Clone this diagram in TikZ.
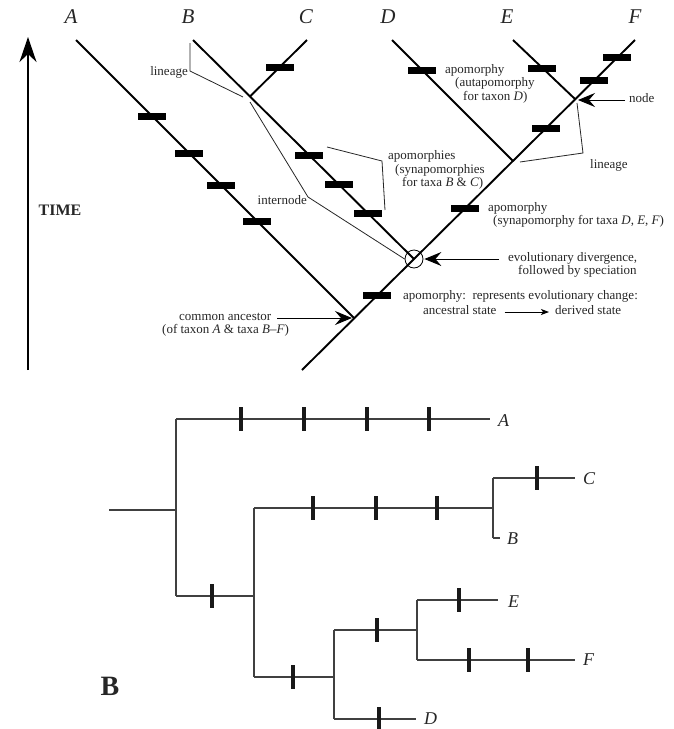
\documentclass[tikz,border=0pt]{standalone}
\usepackage{fontspec}
\setmainfont{Liberation Serif}
\usetikzlibrary{arrows.meta}
\definecolor{txt}{HTML}{262626}
\definecolor{lnB}{HTML}{404040}
\tikzset{
  x=1pt, y=-1pt,
  lineA/.style={line width=1.9pt, black},
  thinl/.style={line width=0.8pt, black!85},
  lineB/.style={line width=1.4pt, lnB},
  barA/.style={rectangle, fill=black, inner sep=0, minimum width=28pt, minimum height=7pt},
  barB/.style={rectangle, fill=black!90, inner sep=0, minimum width=4.5pt, minimum height=24pt},
  lab/.style={font=\fontsize{13}{15}\selectfont, text=txt, inner sep=0, anchor=mid west},
  taxT/.style={font=\fontsize{21}{24}\selectfont\itshape, text=txt, inner sep=0},
  taxB/.style={font=\fontsize{18}{20}\selectfont\itshape, text=txt, inner sep=0, anchor=west},
  bigtip/.style={-{Stealth[length=17pt,width=14pt,inset=6pt]}},
}
\begin{document}
\begin{tikzpicture}
\useasboundingbox (0,0) rectangle (673,729);

% ---------------- Part A ----------------
\node[taxT] (LA) at (71,17) {A};
\node[taxT] (LB) at (188,17) {B};
\node[taxT] (LC) at (306,17) {C};
\node[taxT] (LD) at (388,17) {D};
\node[taxT] (LE) at (507,17) {E};
\node[taxT] (LF) at (635,17) {F};

\coordinate (tA) at (76,40);
\coordinate (tB) at (193,40);
\coordinate (tC) at (307,40);
\coordinate (tD) at (392,40);
\coordinate (tE) at (513,40);
\coordinate (tF) at (635,40);
\coordinate (base) at (302,370);
\coordinate (jA) at (354,318);
\coordinate (jBC) at (250,96.5);
\coordinate (jD) at (513,161);
\coordinate (nEF) at (575,99);

\node[circle, draw, line width=0.8pt, minimum size=18pt, inner sep=0] (circ) at (414,259) {};

\draw[lineA] (tA) -- (jA);
\draw[lineA] (base) -- (tF);
\draw[lineA] (tB) -- (circ.center);
\draw[lineA] (jBC) -- (tC);
\draw[lineA] (tD) -- (jD);
\draw[lineA] (tE) -- (nEF);

% bars on A
\node[barA] (a1) at (152,116) {};
\node[barA] (a2) at (189,153) {};
\node[barA] (a3) at (221,185) {};
\node[barA] (a4) at (257,221) {};
% bars on B
\node[barA] (b1) at (309,155) {};
\node[barA] (b2) at (339,184.5) {};
\node[barA] (b3) at (368,213.5) {};
% bar on C
\node[barA] (c1) at (280,67) {};
% bar on D
\node[barA] (d1) at (422,70) {};
% bar on E
\node[barA] (e1) at (542,68) {};
% bars on trunk
\node[barA] (s1) at (377,295.7) {};
\node[barA] (s2) at (465,208.5) {};
\node[barA] (s3) at (546,128.2) {};
\node[barA] (f1) at (594,80.6) {};
\node[barA] (f2) at (617,57.8) {};

% time axis
\coordinate (tbot) at (28,370);
\coordinate (ttop) at (28,37);
\draw[line width=1.9pt, -{Stealth[length=25pt,width=17pt,inset=8pt]}] (tbot) -- (ttop);
\node[font=\fontsize{16}{18}\selectfont\bfseries, text=txt, inner sep=0] (time) at (60,210) {TIME};

% lineage (left)
\node[lab, anchor=mid east] (linL) at (188,73) {lineage};
\coordinate (lin1) at (190,43);
\coordinate (lin2) at (190,71);
\coordinate (lin3) at (243,97);
\draw[thinl] (lin1) -- (lin2) -- (lin3);

% internode
\node[lab, anchor=mid east] (intn) at (307,202) {internode};
\coordinate (in1) at (250,102);
\coordinate (in2) at (308,197);
\draw[thinl] (in1) -- (in2) -- (circ.west);

% apomorphies bracket
\coordinate (ap1) at (327,147);
\coordinate (ap2) at (382,161);
\coordinate (ap3) at (385,210);
\draw[thinl] (ap1) -- (ap2) -- (ap3);
\node[lab] (apo1) at (388,157) {apomorphies};
\node[lab] (apo2) at (395,171) {(synapomorphies};
\node[lab] (apo3) at (402,184.5) {for taxa \textit{B} \& \textit{C})};

% autapomorphy D
\node[lab] (aut1) at (445,71) {apomorphy};
\node[lab] (aut2) at (455,84.5) {(autapomorphy};
\node[lab] (aut3) at (463,98) {for taxon \textit{D})};

% node
\node[lab] (nodeL) at (629,100) {node};
\draw[line width=1pt, bigtip, shorten >=3pt] (nodeL.mid west) ++(-4,0) coordinate (nodeS) -- (nodeS -| nEF);
% lineage (right)
\coordinate (lr1) at (577,103);
\coordinate (lr2) at (583,153);
\coordinate (lr3) at (520,162);
\draw[thinl] (lr1) -- (lr2) -- (lr3);
\node[lab] (linR) at (590,166) {lineage};

% synapomorphy DEF
\node[lab] (syn1) at (488,209) {apomorphy};
\node[lab] (syn2) at (493,222.5) {(synapomorphy for taxa \textit{D}, \textit{E}, \textit{F})};

% evolutionary divergence
\node[lab] (ev1) at (508,259) {evolutionary divergence,};
\node[lab] (ev2) at (518,272.5) {followed by speciation};
\draw[line width=1pt, bigtip, shorten >=1pt] (ev1.mid west) ++(-9,0) coordinate (evS) -- (evS -| circ.east);

% apomorphy explanation
\node[lab] (ex1) at (403,297) {apomorphy:\ \ represents evolutionary change:};
\node[lab] (anc) at (423,312) {ancestral state};
\node[lab] (der) at (555,312) {derived state};
\draw[line width=0.9pt, -{Stealth[length=8pt,width=6pt,inset=2pt]}, shorten <=8pt, shorten >=6pt] (anc.mid east) -- (der.mid west);

% common ancestor
\node[lab] (ca1) at (179,318) {common ancestor};
\node[lab] (ca2) at (162,331.5) {(of taxon \textit{A} \& taxa \textit{B}–\textit{F})};
\draw[line width=1pt, bigtip, shorten >=2pt] (ca1.mid east) ++(6,0) coordinate (caS) -- (caS -| jA);

% ---------------- Part B ----------------
\node[font=\fontsize{28}{30}\selectfont\bfseries, text=txt, inner sep=0] (partB) at (110,686) {B};

\coordinate (r0) at (109,510);
\coordinate (r1) at (176,510);
\coordinate (v1t) at (176,419);
\coordinate (v1b) at (176,596);
\coordinate (Aend) at (490,419);
\coordinate (n2) at (254,596);
\coordinate (v2t) at (254,508);
\coordinate (v2b) at (254,677);
\coordinate (n3) at (493,508);
\coordinate (v3t) at (493,478);
\coordinate (v3b) at (493,538);
\coordinate (Cend) at (575,478);
\coordinate (Bend) at (500,538);
\coordinate (n4) at (334,677);
\coordinate (v4t) at (334,630);
\coordinate (v4b) at (334,719);
\coordinate (n5) at (417,630);
\coordinate (v5t) at (417,600);
\coordinate (v5b) at (417,660);
\coordinate (Eend) at (498,600);
\coordinate (Fend) at (575,660);
\coordinate (Dend) at (416,719);

\draw[lineB] (r0) -- (r1);
\draw[lineB] (v1t) -- (v1b);
\draw[lineB] (v1t) -- (Aend);
\draw[lineB] (v1b) -- (n2);
\draw[lineB] (v2t) -- (v2b);
\draw[lineB] (v2t) -- (n3);
\draw[lineB] (v3t) -- (v3b);
\draw[lineB] (v3t) -- (Cend);
\draw[lineB] (v3b) -- (Bend);
\draw[lineB] (v2b) -- (n4);
\draw[lineB] (v4t) -- (v4b);
\draw[lineB] (v4t) -- (n5);
\draw[lineB] (v5t) -- (v5b);
\draw[lineB] (v5t) -- (Eend);
\draw[lineB] (v5b) -- (Fend);
\draw[lineB] (v4b) -- (Dend);

\node[barB] (ba1) at (241,419) {};
\node[barB] (ba2) at (304,419) {};
\node[barB] (ba3) at (367,419) {};
\node[barB] (ba4) at (429,419) {};
\node[barB] (bn2) at (212,596) {};
\node[barB] (bb1) at (313,508) {};
\node[barB] (bb2) at (376,508) {};
\node[barB] (bb3) at (437,508) {};
\node[barB] (bc1) at (537,478) {};
\node[barB] (bn4) at (293,677) {};
\node[barB] (bn5) at (377,630) {};
\node[barB] (be1) at (459,600) {};
\node[barB] (bf1) at (469,660) {};
\node[barB] (bf2) at (528,660) {};
\node[barB] (bd1) at (379,719) {};

\node[taxB] (TA) at (498,421) {A};
\node[taxB] (TC) at (583,479) {C};
\node[taxB] (TB) at (507,539) {B};
\node[taxB] (TE) at (508,602) {E};
\node[taxB] (TF) at (583,660) {F};
\node[taxB] (TD) at (424,719) {D};
\end{tikzpicture}
\end{document}
